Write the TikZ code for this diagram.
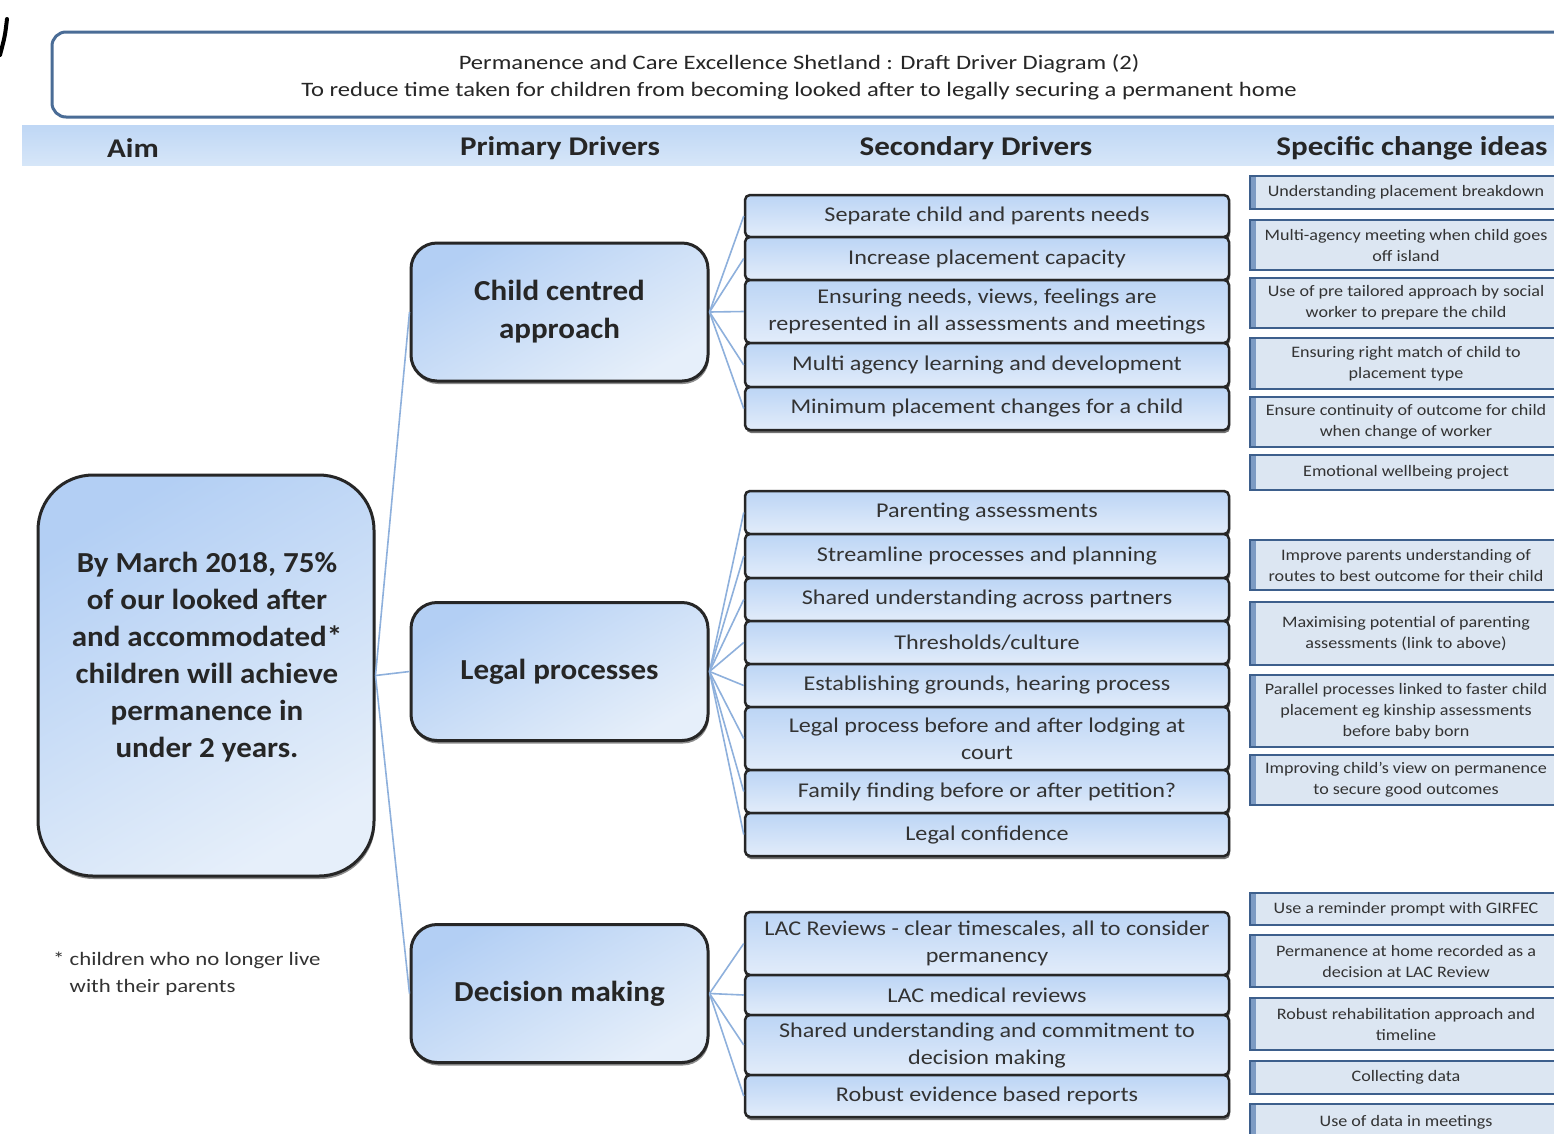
\documentclass[tikz,border=0pt]{standalone}
\usepackage{fontspec}
\setmainfont{Carlito}
\newfontfamily\wideA[FakeStretch=1.15]{Carlito}
\newfontfamily\wideB[FakeStretch=1.13]{Carlito}
\newfontfamily\wideC[FakeStretch=1.07]{Carlito}
\newfontfamily\wideD[FakeStretch=1.2]{Carlito}
\usetikzlibrary{shadows}
\definecolor{titleblue}{HTML}{4A6C96}
\definecolor{bandA}{HTML}{BFD7F5}
\definecolor{bandB}{HTML}{D6E6F8}
\definecolor{secTop}{HTML}{BCD5F5}
\definecolor{secBot}{HTML}{E2ECFA}
\definecolor{primA}{HTML}{B3CFF4}
\definecolor{primB}{HTML}{E6EFFA}
\definecolor{connc}{HTML}{8EB0DC}
\definecolor{chgfill}{HTML}{DCE6F2}
\definecolor{chgborder}{HTML}{3D5F8C}
\definecolor{chgleft}{HTML}{7D9BC3}
\definecolor{txtgray}{HTML}{333333}
\tikzset{
  hdr/.style={font=\wideA\bfseries\fontsize{27}{32}\selectfont, text=black!85, inner sep=0pt},
  secbox/.style={draw=black!85, line width=2.5pt, rounded corners=5pt, top color=secTop, bottom color=secBot,
     minimum width=484pt, inner sep=0pt, align=center, font=\wideA\fontsize{21}{27}\selectfont, text=txtgray,
     drop shadow={shadow xshift=1pt, shadow yshift=-3pt, fill=black!55, opacity=1}},
  primbox/.style={draw=black!85, line width=3pt, rounded corners=26pt, top color=primA, bottom color=primB, shading angle=30,
     minimum width=297pt, minimum height=138pt, inner sep=0pt, align=center,
     font=\wideC\bfseries\fontsize{29}{38}\selectfont, text=black!85,
     drop shadow={shadow xshift=1pt, shadow yshift=-3pt, fill=black!45, opacity=1}},
  aimbox/.style={draw=black!85, line width=3pt, rounded corners=55pt, top color=primA, bottom color=primB, shading angle=30,
     minimum width=336pt, minimum height=401pt, inner sep=0pt,
     drop shadow={shadow xshift=1pt, shadow yshift=-3pt, fill=black!45, opacity=1}},
  chgbox/.style={fill=chgfill, draw=chgborder, line width=2pt, minimum width=312pt, inner sep=0pt, align=center,
     font=\wideB\fontsize{16}{21}\selectfont, text=txtgray,
     path picture={\fill[chgleft] (path picture bounding box.north west) rectangle ([xshift=6pt]path picture bounding box.south west);}},
  conn/.style={draw=connc, line width=1.6pt}
}
\begin{document}
\begin{tikzpicture}[x=1pt,y=-1pt]
\useasboundingbox (0,0) rectangle (1554,1133);
\clip (0,0) rectangle (1554,1133);
\fill[white] (0,0) rectangle (1554,1133);
% corner artifact
\draw[line width=4pt, line cap=round] (7,19) .. controls (5,36) .. (0,55);
% title
\node[draw=titleblue, line width=3pt, rounded corners=14pt, minimum width=1540pt, minimum height=85pt, inner sep=0pt, fill=white] (titlebox) at (822,74.5) {};
\node[align=center, font=\wideD\fontsize{20.5}{27}\selectfont, text=black!85, inner sep=0pt] (titletext) at (799,77.5)
  {Permanence and Care Excellence Shetland : Draft Driver Diagram (2)\\To reduce time taken for children from becoming looked after to legally securing a permanent home};
% header band
\node[top color=bandA, bottom color=bandB, minimum width=1560pt, minimum height=40pt, inner sep=0pt] (band) at (802,145) {};
\node[hdr] (hAim) at (133,148) {Aim};
\node[hdr] (hPrim) at (560,148) {Primary Drivers};
\node[hdr] (hSec) at (976,148) {Secondary Drivers};
\node[hdr] (hChg) at (1412,148) {Specific change ideas};
% aim
\node[aimbox] (aim) at (206,675.5) {};
\node[align=center, font=\wideC\bfseries\fontsize{29}{37}\selectfont, text=black!85, inner sep=0pt] (aimtext) at (207,657)
  {By March 2018, 75\%\\of our looked after\\and accommodated*\\children will achieve\\permanence in\\under 2 years.};
\node[align=left, font=\wideD\fontsize{19}{27}\selectfont, text=txtgray, inner sep=0pt, anchor=north west] (foot) at (53,952)
  {* children who no longer live\\\phantom{* }with their parents};
% primary drivers
\node[primbox] (p1) at (559.5,312) {Child centred\\approach};
\node[primbox] (p2) at (559.5,671.5) {Legal processes};
\node[primbox] (p3) at (559.5,993.5) {Decision making};
% secondary drivers
\node[secbox, minimum height=42pt] (s11) at (987,216) {Separate child and parents needs};
\node[secbox, minimum height=43pt] (s12) at (987,258.5) {Increase placement capacity};
\node[secbox, minimum height=63pt] (s13) at (987,311.5) {Ensuring needs, views, feelings are\\represented in all assessments and meetings};
\node[secbox, minimum height=44pt] (s14) at (987,365) {Multi agency learning and development};
\node[secbox, minimum height=43pt] (s15) at (987,408.5) {Minimum placement changes for a child};
\node[secbox, minimum height=43pt] (s21) at (987,512.5) {Parenting assessments};
\node[secbox, minimum height=44pt] (s22) at (987,556) {Streamline processes and planning};
\node[secbox, minimum height=43pt] (s23) at (987,599.5) {Shared understanding across partners};
\node[secbox, minimum height=43pt] (s24) at (987,642.5) {Thresholds/culture};
\node[secbox, minimum height=43pt] (s25) at (987,685.5) {Establishing grounds, hearing process};
\node[secbox, minimum height=63pt] (s26) at (987,738.5) {Legal process before and after lodging at\\court};
\node[secbox, minimum height=43pt] (s27) at (987,791.5) {Family finding before or after petition?};
\node[secbox, minimum height=43pt] (s28) at (987,834.5) {Legal confidence};
\node[secbox, minimum height=63pt] (s31) at (987,943.5) {LAC Reviews - clear timescales, all to consider\\permanency};
\node[secbox, minimum height=40pt] (s32) at (987,995) {LAC medical reviews};
\node[secbox, minimum height=60pt] (s33) at (987,1045) {Shared understanding and commitment to\\decision making};
\node[secbox, minimum height=42pt] (s34) at (987,1096) {Robust evidence based reports};
% change ideas
\node[chgbox, minimum height=33pt] (c11) at (1406,192.5) {Understanding placement breakdown};
\node[chgbox, minimum height=50pt] (c12) at (1406,245) {Multi-agency meeting when child goes\\off island};
\node[chgbox, minimum height=50pt] (c13) at (1406,303) {Use of pre tailored approach by social\\worker to prepare the child};
\node[chgbox, minimum height=51pt] (c14) at (1406,363.5) {Ensuring right match of child to\\placement type};
\node[chgbox, minimum height=50pt] (c15) at (1406,422) {Ensure continuity of outcome for child\\when change of worker};
\node[chgbox, minimum height=35pt] (c16) at (1406,472.5) {Emotional wellbeing project};
\node[chgbox, minimum height=50pt] (c21) at (1406,565) {Improve parents understanding of\\routes to best outcome for their child};
\node[chgbox, minimum height=63pt] (c22) at (1406,633.5) {Maximising potential of parenting\\assessments (link to above)};
\node[chgbox, minimum height=72pt] (c23) at (1406,711) {Parallel processes linked to faster child\\placement eg kinship assessments\\before baby born};
\node[chgbox, minimum height=50pt] (c24) at (1406,780) {Improving child’s view on permanence\\to secure good outcomes};
\node[chgbox, minimum height=32pt] (c31) at (1406,909) {Use a reminder prompt with GIRFEC};
\node[chgbox, minimum height=52pt] (c32) at (1406,961) {Permanence at home recorded as a\\decision at LAC Review};
\node[chgbox, minimum height=52pt] (c33) at (1406,1024) {Robust rehabilitation approach and\\timeline};
\node[chgbox, minimum height=33pt] (c34) at (1406,1077.5) {Collecting data};
\node[chgbox, minimum height=36pt] (c35) at (1406,1122) {Use of data in meetings};
% connectors
\draw[conn] (aim.east) -- (p1.west);
\draw[conn] (aim.east) -- (p2.west);
\draw[conn] (aim.east) -- (p3.west);
\foreach \s in {s11,s12,s13,s14,s15} \draw[conn] (p1.east) -- (\s.west);
\foreach \s in {s21,s22,s23,s24,s25,s26,s27,s28} \draw[conn] (p2.east) -- (\s.west);
\foreach \s in {s31,s32,s33,s34} \draw[conn] (p3.east) -- (\s.west);
\end{tikzpicture}
\end{document}
